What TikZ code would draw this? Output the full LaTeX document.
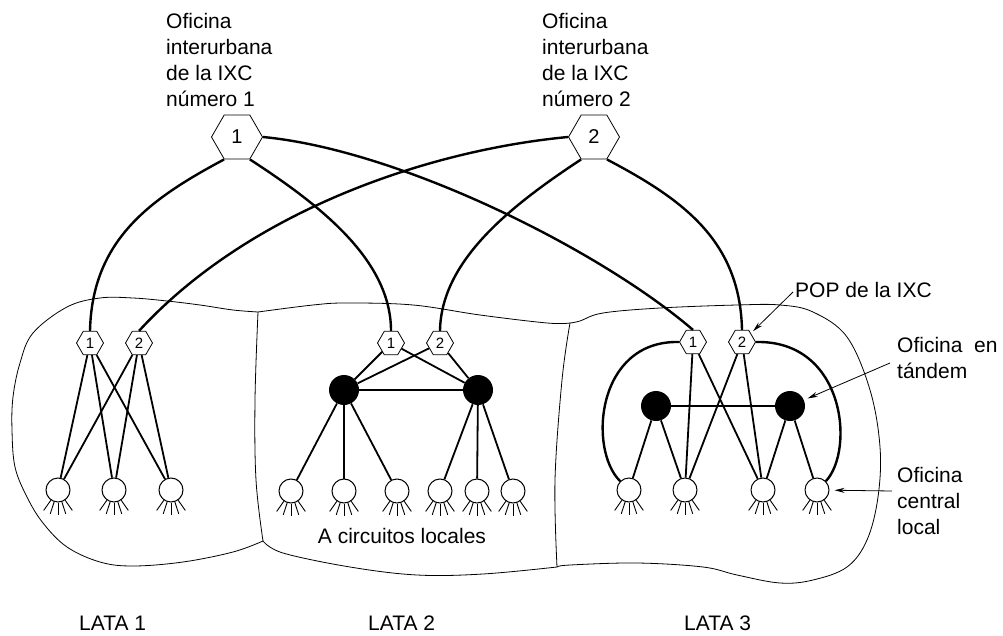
\documentclass[tikz,border=0pt]{standalone}
\usepackage{fontspec}
\setmainfont{Liberation Sans}
\usetikzlibrary{shapes.geometric,arrows.meta,calc}
\begin{document}
\begin{tikzpicture}[x=1pt,y=-1pt,
  bighex/.style={regular polygon,regular polygon sides=6,draw,line width=0.8pt,minimum size=51pt,inner sep=0pt,fill=white,font=\fontsize{20}{20}\selectfont},
  smallhex/.style={regular polygon,regular polygon sides=6,draw,line width=0.8pt,minimum size=27pt,inner sep=0pt,fill=white,font=\fontsize{15}{15}\selectfont},
  office/.style={circle,draw,line width=1pt,minimum size=24pt,inner sep=0pt,fill=white},
  tandem/.style={circle,fill=black,minimum size=30pt,inner sep=0pt},
  trunk/.style={line width=2.4pt},
  link/.style={line width=1.8pt},
  border/.style={line width=0.8pt},
  fan/.style={line width=0.9pt},
  lbl/.style={font=\fontsize{21}{26}\selectfont,inner sep=0pt,align=left},
  pointer/.style={line width=0.8pt,-{Stealth[length=10pt,width=5pt]}},
]
\useasboundingbox (0,0) rectangle (1003,636);

% LATA boundaries
\draw[border] plot[smooth,tension=0.6] coordinates {(258,312)(233,310)(200,305)(167,301)(133,298)(100,298)(67,307)(33,333)(20,363)(13,397)(12,430)(15,467)(27,497)(43,523)(67,547)(100,562)(133,566)(183,562)(233,552)(263,541)};
\draw[border] plot[smooth,tension=0.6] coordinates {(258,312)(255,400)(256,480)(263,541)};
\draw[border] plot[smooth,tension=0.6] coordinates {(263,541)(283,553)(350,567)(417,575)(483,574)(557,567)};
\draw[border] plot[smooth,tension=0.6] coordinates {(570,323)(562,380)(555,480)(557,567)};
\draw[border] plot[smooth,tension=0.6] coordinates {(258,312)(313,305)(347,303)(413,305)(480,315)(547,323)(570,323)};
\draw[border] plot[smooth,tension=0.6] coordinates {(570,323)(580,321)(603,313)(660,308)(737,305)(780,305)(813,312)(847,337)(870,390)(880,447)(878,497)(867,540)(847,567)(813,580)(780,583)(737,575)(703,567)(637,563)(570,565)(557,567)};

% IXC toll offices
\node[bighex] (H1) at (237,137) {1};
\node[bighex] (H2) at (594,137) {2};

% POPs
\node[smallhex] (L1a) at (90,343) {1};
\node[smallhex] (L1b) at (139,343) {2};
\node[smallhex] (L2a) at (391,343) {1};
\node[smallhex] (L2b) at (440,343) {2};
\node[smallhex] (L3a) at (693,342) {1};
\node[smallhex] (L3b) at (742,342) {2};

% tandem offices
\node[tandem] (T1) at (344,390) {};
\node[tandem] (T2) at (478,390) {};
\node[tandem] (T3) at (656,406) {};
\node[tandem] (T4) at (790,406) {};

% local central offices
\node[office] (A1) at (58,490) {};
\node[office] (A2) at (114,490) {};
\node[office] (A3) at (171,490) {};
\node[office] (B1) at (291,491) {};
\node[office] (B2) at (344,491) {};
\node[office] (B3) at (397,491) {};
\node[office] (B4) at (440,491) {};
\node[office] (B5) at (477,491) {};
\node[office] (B6) at (513,491) {};
\node[office] (D1) at (629,490) {};
\node[office] (D2) at (685,490) {};
\node[office] (D3) at (763,490) {};
\node[office] (D4) at (817,490) {};

\foreach \n in {A1,A2,A3,B1,B2,B3,B4,B5,B6,D1,D2,D3,D4}
  \foreach \a in {55,72,90,108,125}
    \draw[fan] ($(\n)+(\a:12.5)$) -- ($(\n)+(\a:25)$);

% trunks
\draw[trunk] (H1.240) .. controls (150,199) and (92,240) .. (L1a.north);
\draw[trunk] (H1.300) .. controls (320,205) and (391,260) .. (L2a.north);
\draw[trunk] (H1.0) .. controls (400,150) and (600,250) .. (L3a.north);
\draw[trunk] (H2.180) .. controls (430,150) and (250,210) .. (L1b.north);
\draw[trunk] (H2.240) .. controls (512,205) and (441,260) .. (L2b.north);
\draw[trunk] (H2.300) .. controls (682,199) and (740,240) .. (L3b.north);

% LATA 1
\foreach \p in {L1a,L1b}
  \foreach \c in {A1,A2,A3}
    \draw[link] (\p) -- (\c);

% LATA 2
\draw[link] (L2a) -- (T1);
\draw[link] (L2a) -- (T2);
\draw[link] (L2b) -- (T1);
\draw[link] (L2b) -- (T2);
\draw[link] (T1) -- (T2);
\foreach \c in {B1,B2,B3} \draw[link] (T1) -- (\c);
\foreach \c in {B4,B5,B6} \draw[link] (T2) -- (\c);

% LATA 3
\draw[trunk] (L3a.180) .. controls (596,340) and (588,450) .. (D1.135);
\draw[trunk] (L3b.0) .. controls (845,340) and (855,450) .. (D4.45);
\draw[link] (L3a) -- (D2);
\draw[link] (L3a) -- (D3);
\draw[link] (L3b) -- (D2);
\draw[link] (L3b) -- (D3);
\draw[link] (T3) -- (T4);
\draw[link] (T3) -- (D1);
\draw[link] (T3) -- (D2);
\draw[link] (T4) -- (D3);
\draw[link] (T4) -- (D4);

% labels
\node[lbl,anchor=north west] (t1) at (166,13.5) {Oficina\\interurbana\\de la IXC\\número 1};
\node[lbl,anchor=north west] (t2) at (542,13.5) {Oficina\\interurbana\\de la IXC\\número 2};
\node[lbl,anchor=base west] (poplbl) at (795,297) {POP de la IXC};
\node[lbl,anchor=north west] (tanlbl) at (897,337.5) {Oficina\ \ en\\tándem};
\node[lbl,anchor=north west] (loclbl) at (897,467.5) {Oficina\\central\\local};
\node[lbl,anchor=base] (circ) at (402,543) {A circuitos locales};
\node[lbl,anchor=base west] (lata1) at (79,630) {LATA 1};
\node[lbl,anchor=base west] (lata2) at (368,630) {LATA 2};
\node[lbl,anchor=base west] (lata3) at (684,630) {LATA 3};

% pointers
\coordinate (popstart) at (793,292);
\coordinate (tanstart) at (890,363);
\coordinate (locstart) at (892,491);
\draw[pointer,shorten >=3pt] (popstart) -- (L3b);
\draw[pointer,shorten >=4pt] (tanstart) -- (T4);
\draw[pointer,shorten >=5pt] (locstart) -- (D4);
\end{tikzpicture}
\end{document}
